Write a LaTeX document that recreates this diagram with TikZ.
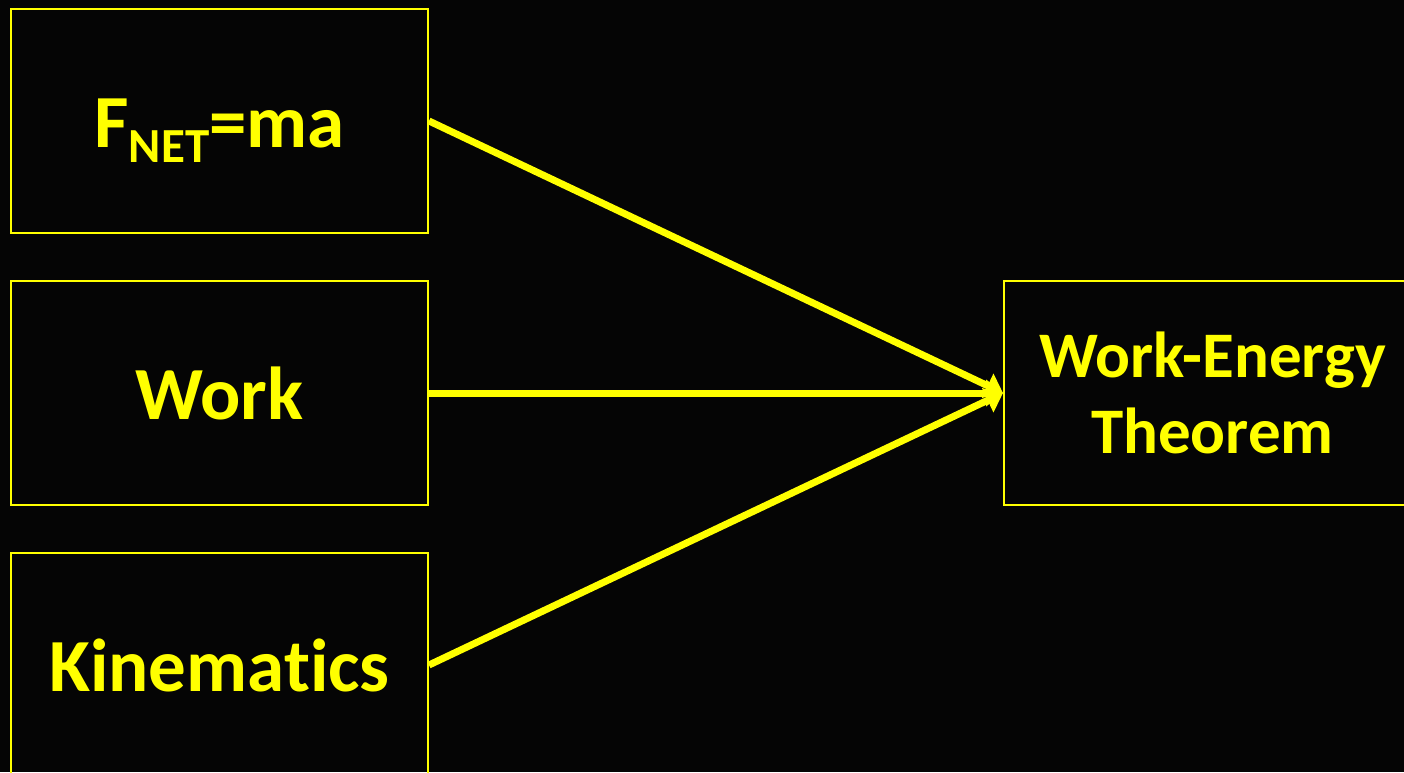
\documentclass[tikz,border=0pt]{standalone}
\usepackage{fontspec}
\setmainfont[Ligatures=NoCommon]{Carlito}
\usetikzlibrary{arrows.meta}
\definecolor{bg}{HTML}{050505}
\definecolor{yel}{HTML}{FFFF00}
\begin{document}
\begin{tikzpicture}[x=1pt,y=-1pt,
  box/.style={draw=yel, line width=2pt, minimum width=417pt, minimum height=224pt, inner sep=0pt, text=yel,
    font=\bfseries\fontsize{75}{78}\selectfont, align=center},
  conn/.style={draw=yel, line width=7pt, -{Triangle[length=17pt,width=26pt]}}]
\fill[bg] (0,0) rectangle (1404,772);
\useasboundingbox (0,0) rectangle (1404,772);
\node[box, text height=52pt, text depth=0pt] (f) at (219.5,121) {F\raisebox{-15pt}{\fontsize{49}{49}\selectfont NET}=ma};
\node[box] (w) at (219.5,393) {Work};
\node[box] (k) at (219.5,665) {Kinematics};
\node[box, font=\bfseries\fontsize{65}{76}\selectfont] (t) at (1212.5,393) {Work-Energy\\Theorem};
\draw[conn] (f.east) -- (t.west);
\draw[conn] (w.east) -- (t.west);
\draw[conn] (k.east) -- (t.west);
\end{tikzpicture}
\end{document}
